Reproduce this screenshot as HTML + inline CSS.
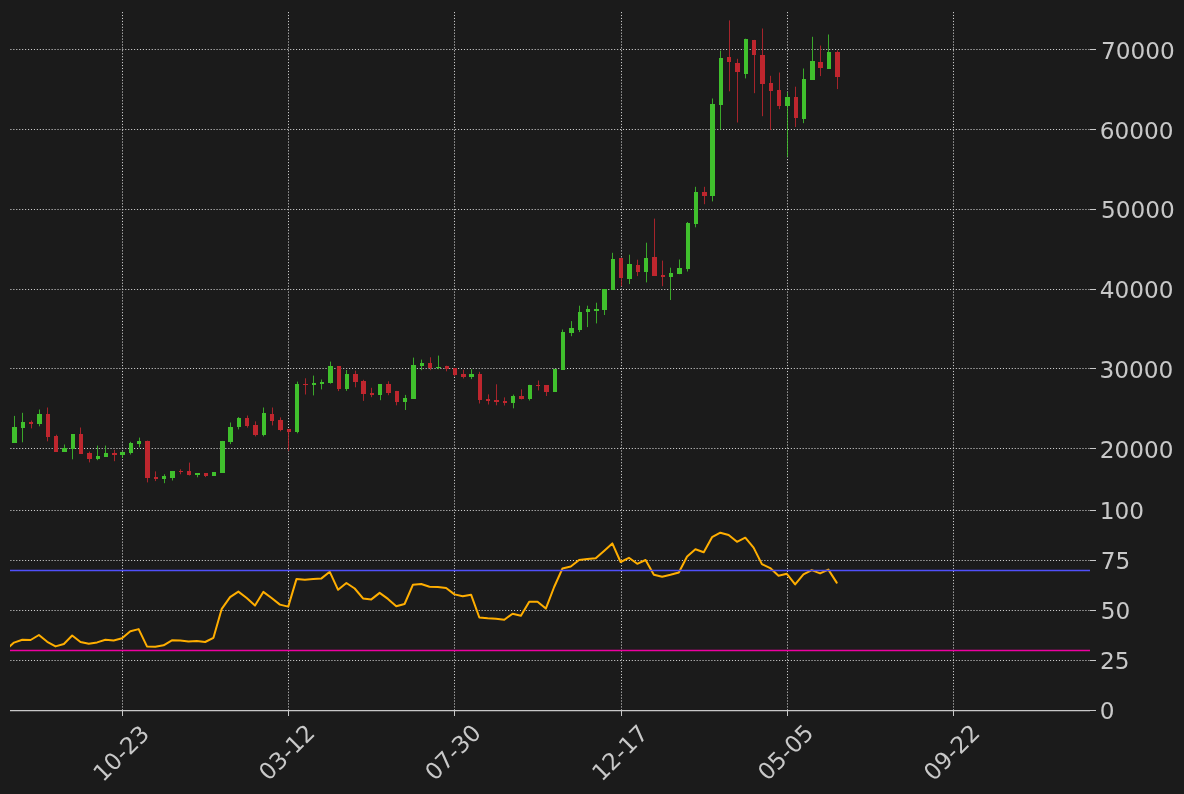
<!DOCTYPE html><html><head><meta charset="utf-8"><title>chart</title>
<style>html,body{margin:0;padding:0;background:#1b1b1b;}body{width:1184px;height:794px;overflow:hidden;}svg{display:block;}text{font-family:"DejaVu Sans","Liberation Sans",sans-serif;fill:#c8c8c8;}</style></head><body>
<svg width="1184" height="794" viewBox="0 0 1184 794">
<rect x="0" y="0" width="1184" height="794" fill="#1b1b1b"/>
<defs><clipPath id="ax"><rect x="10" y="11" width="1080" height="699"/></clipPath></defs>
<path d="M10.35 49.5H1090M10.35 129.5H1090M10.35 209.5H1090M10.35 289.5H1090M10.35 368.5H1090M10.35 448.5H1090M10.35 510.5H1090M10.35 560.5H1090M10.35 610.5H1090M10.35 660.5H1090" stroke="#cfcfcf" stroke-width="1" stroke-dasharray="1.111 1.8343" fill="none"/>
<path d="M122.5 710.4V11M288.5 710.4V11M454.5 710.4V11M621.5 710.4V11M787.5 710.4V11M953.5 710.4V11" stroke="#cfcfcf" stroke-width="1" stroke-dasharray="1.111 1.8310" fill="none"/>
<g clip-path="url(#ax)">
<path d="M14.5 415.9V443M22.5 412.8V442.3M39.5 409.5V426.3M64.5 444.5V451.9M72.5 434V459.3M97.5 445.6V460.2M105.5 445.6V456.9M122.5 451.5V457.9M130.5 441.8V454.5M139.5 437.6V447.3M164.5 474.3V483.2M172.5 471V480.5M197.5 473.1V477.3M213.5 472.1V475.8M222.5 440.9V473M230.5 422.5V444.1M238.5 417.1V429.4M263.5 407.5V436.4M297.5 381.6V433.3M313.5 375.6V395.4M321.5 379.5V389.4M330.5 361.6V383.7M346.5 370V390.9M380.5 384V400.2M405.5 394.9V410M413.5 357.6V398.9M421.5 359.6V370.2M438.5 355.6V369.2M471.5 369.2V379.1M513.5 394.6V408.3M529.5 384.8V400.5M554.5 368.8V391.8M562.5 329.5V369.9M571.5 321.1V336.2M579.5 305.7V332.1M587.5 305.7V327.1M596.5 302.7V323.4M604.5 289.1V315M612.5 252.8V289.7M629.5 254.7V284.1M646.5 242.7V282.4M670.5 267.7V300M679.5 259.5V274.2M687.5 222V271.5M695.5 186.8V227.3M712.5 98.5V201.4M720.5 50.6V129.5M745.5 38.7V78.4M787.5 92.3V156.8M803.5 68.5V123.2M812.5 36.8V80M828.5 34.5V68.9" stroke="#40c02d" stroke-width="0.85" fill="none"/>
<path d="M31.5 420.5V428.4M47.5 407.5V441.3M56.5 434.7V451.9M80.5 427.5V453.8M89.5 451.6V462.4M114.5 449.8V461.2M147.5 440.6V482.4M155.5 471.4V481.1M180.5 469.3V474.3M189.5 462.6V475.5M205.5 473.1V477.1M247.5 415.5V427.6M255.5 421.4V436.4M272.5 407.5V425.4M280.5 417.4V431.3M288.5 429V451M305.5 378.3V394.5M338.5 366V391.1M355.5 370.6V387.3M363.5 379.8V400.9M371.5 387.8V397.2M388.5 381.3V395.2M396.5 390.9V405.3M430.5 357.3V370.2M446.5 365.7V371.3M454.5 368.2V376.3M463.5 369.7V378.5M479.5 371.8V403.5M488.5 394.4V404.5M496.5 384.3V405.3M504.5 397.4V405.5M521.5 389.4V399.5M538.5 380.5V390.4M546.5 385V396M621.5 258.1V286.2M637.5 259.7V276.1M654.5 218.6V275.7M662.5 260.6V286.2M704.5 186.8V204.2M729.5 20.4V91.3M737.5 58.8V122.5M754.5 39.9V93.2M762.5 28.5V116.2M770.5 75.8V130M779.5 72.5V109.2M795.5 86.7V127M820.5 45.6V76.1M837.5 50.3V89.1" stroke="#be262e" stroke-width="0.85" fill="none"/>
<g fill="#40c02d"><rect x="12" y="427" width="5" height="16"/><rect x="21" y="422" width="4" height="6"/><rect x="37" y="414" width="5" height="10"/><rect x="62" y="448" width="5" height="4"/><rect x="71" y="434" width="4" height="15"/><rect x="96" y="456" width="4" height="3"/><rect x="104" y="453" width="4" height="4"/><rect x="120" y="452" width="5" height="3"/><rect x="129" y="443" width="4" height="10"/><rect x="137" y="441" width="4" height="3"/><rect x="162" y="476" width="4" height="3"/><rect x="170" y="471" width="5" height="7"/><rect x="195" y="473" width="5" height="2"/><rect x="212" y="472" width="4" height="4"/><rect x="220" y="441" width="5" height="32"/><rect x="228" y="427" width="5" height="15"/><rect x="237" y="418" width="4" height="9"/><rect x="262" y="413" width="4" height="22"/><rect x="295" y="384" width="4" height="48"/><rect x="312" y="383" width="4" height="2"/><rect x="320" y="382" width="4" height="2"/><rect x="328" y="366" width="5" height="17"/><rect x="345" y="374" width="4" height="15"/><rect x="378" y="384" width="4" height="11"/><rect x="403" y="398" width="4" height="4"/><rect x="411" y="365" width="5" height="34"/><rect x="420" y="363" width="4" height="3"/><rect x="436" y="367" width="5" height="1"/><rect x="469" y="374" width="5" height="3"/><rect x="511" y="396" width="4" height="7"/><rect x="528" y="385" width="4" height="14"/><rect x="553" y="369" width="4" height="23"/><rect x="561" y="332" width="4" height="38"/><rect x="569" y="328" width="5" height="5"/><rect x="578" y="312" width="4" height="18"/><rect x="586" y="309" width="4" height="3"/><rect x="594" y="309" width="5" height="2"/><rect x="602" y="289" width="5" height="21"/><rect x="611" y="259" width="4" height="31"/><rect x="627" y="264" width="5" height="15"/><rect x="644" y="258" width="4" height="14"/><rect x="669" y="273" width="4" height="4"/><rect x="677" y="268" width="5" height="6"/><rect x="686" y="223" width="4" height="46"/><rect x="694" y="192" width="4" height="32"/><rect x="710" y="104" width="5" height="92"/><rect x="719" y="58" width="4" height="47"/><rect x="744" y="39" width="4" height="35"/><rect x="785" y="97" width="5" height="9"/><rect x="802" y="79" width="4" height="40"/><rect x="810" y="61" width="5" height="19"/><rect x="827" y="52" width="4" height="17"/></g>
<g fill="#be262e"><rect x="29" y="422" width="4" height="2"/><rect x="46" y="414" width="4" height="23"/><rect x="54" y="436" width="4" height="16"/><rect x="79" y="434" width="4" height="20"/><rect x="87" y="453" width="5" height="6"/><rect x="112" y="453" width="5" height="2"/><rect x="145" y="441" width="5" height="37"/><rect x="154" y="477" width="4" height="2"/><rect x="179" y="471" width="4" height="1"/><rect x="187" y="471" width="4" height="4"/><rect x="204" y="473" width="4" height="3"/><rect x="245" y="418" width="4" height="8"/><rect x="253" y="425" width="5" height="10"/><rect x="270" y="414" width="4" height="7"/><rect x="278" y="420" width="5" height="10"/><rect x="287" y="429" width="4" height="3"/><rect x="303" y="384" width="5" height="1"/><rect x="337" y="366" width="4" height="23"/><rect x="353" y="374" width="5" height="8"/><rect x="361" y="381" width="5" height="13"/><rect x="370" y="393" width="4" height="2"/><rect x="386" y="384" width="5" height="9"/><rect x="395" y="391" width="4" height="11"/><rect x="428" y="363" width="4" height="5"/><rect x="445" y="366" width="4" height="3"/><rect x="453" y="368" width="4" height="7"/><rect x="461" y="374" width="5" height="3"/><rect x="478" y="374" width="4" height="26"/><rect x="486" y="399" width="4" height="2"/><rect x="494" y="400" width="5" height="2"/><rect x="503" y="401" width="4" height="2"/><rect x="519" y="396" width="5" height="3"/><rect x="536" y="385" width="4" height="1"/><rect x="544" y="385" width="5" height="7"/><rect x="619" y="258" width="4" height="20"/><rect x="636" y="265" width="4" height="7"/><rect x="652" y="257" width="5" height="19"/><rect x="661" y="275" width="4" height="2"/><rect x="702" y="192" width="5" height="4"/><rect x="727" y="57" width="4" height="5"/><rect x="735" y="63" width="5" height="9"/><rect x="752" y="40" width="4" height="15"/><rect x="760" y="55" width="5" height="29"/><rect x="769" y="83" width="4" height="8"/><rect x="777" y="90" width="4" height="16"/><rect x="794" y="97" width="4" height="21"/><rect x="818" y="62" width="5" height="6"/><rect x="835" y="52" width="5" height="25"/></g>
<polyline points="5.69,649.8 14,642.6 22.31,639.8 30.62,640 38.93,635 47.24,641.8 55.55,646.4 63.86,644 72.17,635.5 80.48,642 88.79,643.8 97.1,642.4 105.41,639.7 113.72,640.5 122.03,638.3 130.34,631.2 138.65,629.1 146.96,646.4 155.27,646.7 163.58,645.3 171.89,640.3 180.2,640.5 188.51,641.6 196.82,641 205.13,642 213.44,637.8 221.75,608.8 230.06,597.1 238.37,591.6 246.68,598 254.99,605.6 263.3,591.9 271.61,598 279.92,604.6 288.23,606.6 296.54,578.9 304.85,579.8 313.16,578.9 321.47,578.4 329.78,571.8 338.09,589.8 346.4,583 354.71,588.5 363.02,598.4 371.33,599.4 379.64,592.9 387.95,598.9 396.26,606.3 404.57,604 412.88,584.8 421.19,584 429.5,586.8 437.81,586.9 446.12,588 454.43,594.4 462.74,596.3 471.05,594.7 479.36,617.5 487.67,618.3 495.98,618.8 504.29,619.8 512.6,613.7 520.91,615.7 529.22,601.7 537.53,601.7 545.84,608.6 554.15,587 562.46,568.5 570.77,566.5 579.08,560 587.39,558.9 595.7,558.3 604.01,551 612.32,543.4 620.63,562 628.94,557.8 637.25,563.8 645.56,560 653.87,574.7 662.18,576.7 670.49,574.7 678.8,572.5 687.11,556.5 695.42,549.2 703.73,552.2 712.04,537.2 720.35,532.7 728.66,535 736.97,541.8 745.28,537.7 753.59,547.6 761.9,564.1 770.21,568.1 778.52,575.7 786.83,573.8 795.14,584.4 803.45,574.3 811.76,570.1 820.07,573.4 828.38,569.6 836.69,582.6" stroke="#ffae00" stroke-width="2" fill="none" stroke-linejoin="round" stroke-linecap="round"/>
<path d="M10 570.5H1090" stroke="#5050fa" stroke-width="1.5"/>
<path d="M10 650.5H1090" stroke="#ee00a0" stroke-width="1.5"/>
</g>
<path d="M10 710.5H1090" stroke="#c8c8c8" stroke-width="1.25"/>
<path d="M1090 49.5H1096M1090 129.5H1096M1090 209.5H1096M1090 289.5H1096M1090 368.5H1096M1090 448.5H1096M1090 510.5H1096M1090 560.5H1096M1090 610.5H1096M1090 660.5H1096M1090 710.5H1096M122.5 710V716M288.5 710V716M454.5 710V716M621.5 710V716M787.5 710V716M953.5 710V716" stroke="#c8c8c8" stroke-width="1" fill="none"/>
<text x="1100.9" y="58.8" font-size="23.2">70000</text>
<text x="1099.8" y="138.8" font-size="23.2">60000</text>
<text x="1100.9" y="217.8" font-size="23.2">50000</text>
<text x="1099.8" y="297.8" font-size="23.2">40000</text>
<text x="1099.5" y="377.8" font-size="23.2">30000</text>
<text x="1099.8" y="457.8" font-size="23.2">20000</text>
<text x="1099.8" y="518.8" font-size="23.2">100</text>
<text x="1100.8" y="568.8" font-size="23.2">75</text>
<text x="1100.7" y="618.8" font-size="23.2">50</text>
<text x="1099.9" y="668.8" font-size="23.2">25</text>
<text x="1099.8" y="718.8" font-size="23.2">0</text>
<text x="120.9" y="753" font-size="23.2" text-anchor="middle" dominant-baseline="central" transform="rotate(-45 120.9 753)">10-23</text>
<text x="286.35" y="752" font-size="23.2" text-anchor="middle" dominant-baseline="central" transform="rotate(-45 286.35 752)">03-12</text>
<text x="452.5" y="752" font-size="23.2" text-anchor="middle" dominant-baseline="central" transform="rotate(-45 452.5 752)">07-30</text>
<text x="619.5" y="752.5" font-size="23.2" text-anchor="middle" dominant-baseline="central" transform="rotate(-45 619.5 752.5)">12-17</text>
<text x="785.2" y="752" font-size="23.2" text-anchor="middle" dominant-baseline="central" transform="rotate(-45 785.2 752)">05-05</text>
<text x="951.3" y="752.1" font-size="23.2" text-anchor="middle" dominant-baseline="central" transform="rotate(-45 951.3 752.1)">09-22</text>
</svg></body></html>
